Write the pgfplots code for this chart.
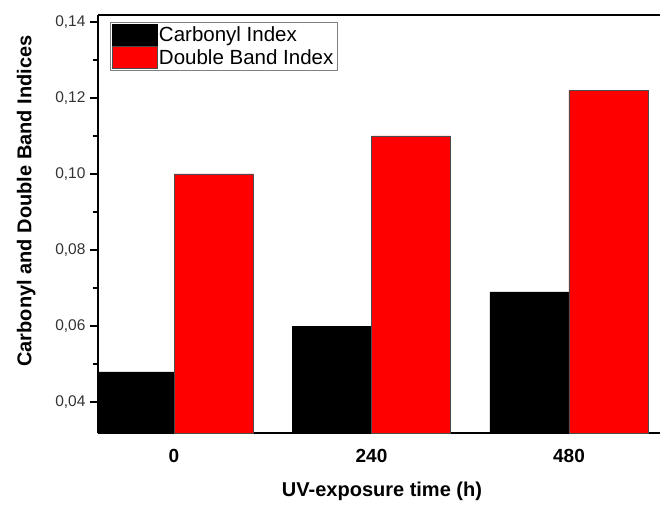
\documentclass[border=0pt]{standalone}
\usepackage{pgfplots}
\pgfplotsset{compat=1.18}
\usepackage{fontspec}
\setmainfont{Liberation Sans}
\begin{document}
\begin{tikzpicture}
\begin{axis}[
  name=ax,
  scale only axis,
  width=562pt, height=418pt,
  xmin=-92.4, xmax=590.6,
  ymin=0.0319, ymax=0.1418,
  ybar=0pt, bar width=79pt,
  axis x line=box, axis y line=left,
  axis line style={-, line width=1.5pt},
  xtick={0,240,480},
  xticklabels={0,240,480},
  major x tick style={draw=none},
  ytick={0.04,0.06,0.08,0.10,0.12,0.14},
  minor y tick num=1,
  tick align=outside,
  major tick length=8pt, minor tick length=5pt,
  y tick style={line width=1.5pt, black},
  /pgf/number format/assume math mode=true,
  /pgf/number format/use comma,
  /pgf/number format/fixed,
  /pgf/number format/fixed zerofill,
  /pgf/number format/precision=2,
  yticklabel style={font=\fontsize{15.5}{17}\selectfont, xshift=-1pt, text=black!80},
  xticklabel style={font=\fontsize{19}{21}\selectfont\bfseries, yshift=-5pt},
  xlabel={UV-exposure time (h)},
  ylabel={Carbonyl and Double Band Indices},
  xlabel style={font=\fontsize{20}{22}\selectfont\bfseries, yshift=-12pt, xshift=3pt},
  ylabel style={font=\fontsize{20}{22}\selectfont\bfseries, at={(ticklabel cs:0.555)}, yshift=13pt},
  legend style={at={(0.021,0.983)}, anchor=north west, draw=gray, line width=0.6pt,
    font=\fontsize{20.5}{22}\selectfont, inner sep=1.5pt, row sep=0pt,
    nodes={xshift=3pt}},
  legend cell align=left,
  legend image code/.code={\fill[#1] (-3pt,-11pt) rectangle (42pt,11pt);},
]
\addplot[fill=black, draw=black, line width=0.4pt] coordinates {(0,0.048) (240,0.060) (480,0.069)};
\addplot[fill=red, draw=black!70, line width=0.4pt] coordinates {(0,0.100) (240,0.110) (480,0.122)};
\legend{Carbonyl Index, Double Band Index}
\end{axis}
\pgfresetboundingbox
\path ([shift={(-98pt,-74pt)}]ax.south west) rectangle ([shift={(0pt,15pt)}]ax.north east);
\end{tikzpicture}
\end{document}
